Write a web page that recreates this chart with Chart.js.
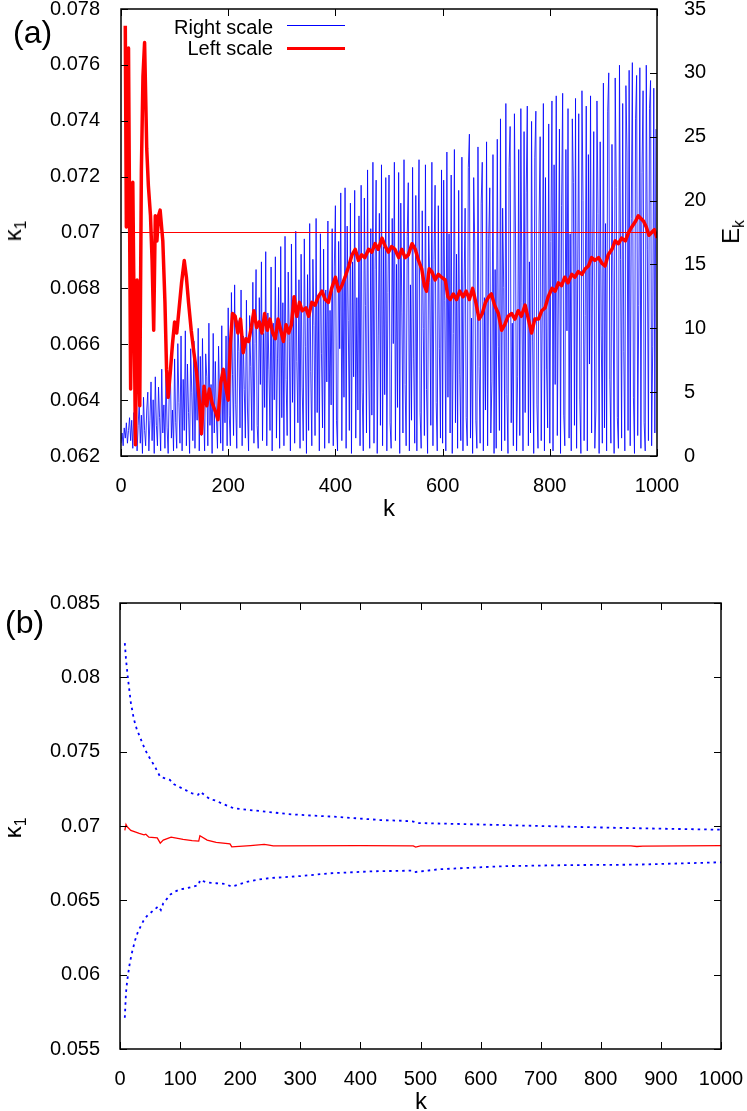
<!DOCTYPE html>
<html>
<head>
<meta charset="utf-8">
<title>kappa_1 and E_k versus k</title>
<script src="https://cdn.jsdelivr.net/npm/chart.js@4.4.1/dist/chart.umd.min.js"></script>
<style>
  body { margin: 0; background: #fff; width: 747px; height: 1111px; position: relative; overflow: hidden;
         font-family: "Liberation Sans", Arial, sans-serif; color: #000; }
  canvas { position: absolute; left: 0; }
  #chartA { top: 0; }
  #chartB { top: 560px; }
  .lbl { position: absolute; white-space: nowrap; line-height: 1; }
  .panel { font-size: 32px; }
  .axt { font-size: 24px; transform: translate(-50%, -50%); }
  .axt.rot { transform: translate(-50%, -50%) rotate(-90deg); }
  .axt sub { font-size: 65%; vertical-align: -0.35em; line-height: 0; }
  .leg { position: absolute; left: 0; width: 273px; text-align: right; font-size: 20px; line-height: 1; }
  .legline { position: absolute; left: 287px; width: 58px; }
</style>
</head>
<body>
<canvas id="chartA" width="747" height="540"></canvas>
<canvas id="chartB" width="747" height="551"></canvas>

<div class="lbl panel" style="left:13px; top:16px;">(a)</div>
<div class="lbl panel" style="left:5px; top:606px;">(b)</div>

<div class="leg" style="top:17px;">Right scale</div>
<div class="legline" style="top:25px; height:1px; background:#0000ff;"></div>
<div class="leg" style="top:38px;">Left scale</div>
<div class="legline" style="top:47px; height:3px; background:#ff0000;"></div>

<div class="lbl axt rot" style="left:13px; top:231px;">κ<sub>1</sub></div>
<div class="lbl axt rot" style="left:731px; top:232px;">E<sub>k</sub></div>
<div class="lbl axt" style="left:389px; top:508px;">k</div>
<div class="lbl axt rot" style="left:13px; top:828px;">κ<sub>1</sub></div>
<div class="lbl axt" style="left:421px; top:1101px;">k</div>

<script>
// ---- panel (a) data ----
// E_k (right scale), one value every BLUE_STEP in k (one row = 50 k)
const BLUE_STEP = 2;
const blueE = [
  1.0, 1.8, 0.8, 2.2, 1.4, 2.6, 1.0, 2.0, 3.0, 1.2, 2.8, 0.6, 3.4, 1.6, 3.8, 0.4, 2.4, 4.2, 1.0, 3.2, 0.2, 4.6, 2.0, 0.8, 3.6,
  5.0, 0.4, 2.8, 5.8, 1.2, 4.4, 0.2, 6.2, 2.4, 0.8, 5.4, 3.0, 0.4, 6.8, 1.8, 4.0, 0.6, 6.4, 2.2, 0.2, 5.2, 7.0, 1.4, 3.6, 0.4,
  7.6, 2.6, 0.6, 8.8, 4.2, 1.0, 9.4, 0.4, 6.0, 2.0, 9.8, 0.8, 7.2, 3.4, 0.2, 8.4, 5.0, 1.2, 9.0, 0.6, 6.6, 2.8, 10.0, 0.4, 7.8,
  1.6, 9.2, 3.6, 0.4, 8.0, 6.2, 0.8, 10.4, 2.4, 5.6, 0.2, 9.6, 1.8, 7.4, 3.0, 0.6, 8.6, 4.6, 1.0, 10.2, 0.4, 6.8, 2.6, 9.4, 0.8,
  11.6, 3.2, 0.8, 12.8, 6.4, 1.6, 13.4, 4.0, 0.6, 10.6, 8.2, 2.2, 13.0, 0.8, 9.4, 5.2, 1.4, 12.2, 3.6, 0.4, 11.0, 7.0, 2.0, 13.6, 1.0,
  8.8, 14.6, 2.4, 0.6, 12.4, 5.6, 15.2, 1.2, 9.6, 3.8, 16.0, 0.8, 11.2, 6.8, 2.0, 14.8, 0.4, 10.4, 4.4, 15.6, 1.4, 7.6, 13.2, 0.6, 16.4,
  3.0, 12.0, 0.8, 17.2, 6.0, 1.6, 14.4, 9.0, 0.4, 16.6, 4.2, 11.6, 1.0, 17.6, 7.4, 2.6, 13.8, 0.6, 15.8, 5.4, 1.2, 17.0, 8.6, 0.2, 14.2,
  2.0, 18.2, 6.6, 0.8, 15.4, 10.2, 1.6, 18.6, 3.4, 12.6, 0.4, 17.4, 8.0, 2.2, 16.2, 0.6, 13.0, 5.8, 18.4, 1.0, 11.4, 4.0, 17.8, 0.8, 14.8,
  19.6, 2.8, 0.4, 16.8, 8.4, 20.6, 1.2, 13.6, 4.6, 21.0, 0.6, 18.0, 10.6, 2.0, 19.8, 0.2, 15.2, 6.2, 20.8, 1.4, 12.4, 3.6, 18.8, 0.8, 21.2,
  5.0, 0.4, 20.2, 11.8, 1.8, 22.4, 7.2, 0.6, 17.8, 3.2, 23.0, 1.0, 14.6, 21.6, 0.2, 9.4, 19.0, 2.4, 22.8, 0.8, 16.4, 4.8, 21.8, 0.4, 12.8,
  22.0, 2.6, 0.6, 18.6, 8.8, 23.0, 1.2, 15.0, 3.8, 22.2, 0.2, 19.8, 11.2, 1.8, 23.2, 5.6, 0.8, 17.2, 21.4, 0.4, 13.4, 2.8, 22.6, 7.6, 1.0,
  20.4, 0.4, 16.0, 23.2, 3.4, 0.6, 19.2, 10.0, 1.6, 22.8, 5.2, 0.2, 18.0, 13.6, 2.4, 23.0, 0.8, 15.4, 21.2, 4.2, 0.4, 19.6, 8.4, 1.4, 22.4,
  1.0, 21.6, 12.2, 0.4, 23.8, 4.6, 17.4, 1.8, 22.0, 0.2, 9.6, 24.0, 2.6, 15.8, 0.6, 20.8, 6.4, 1.2, 23.4, 0.4, 13.0, 19.4, 3.0, 0.8, 22.6,
  25.2, 1.4, 10.8, 0.2, 21.8, 16.6, 2.8, 0.6, 24.2, 7.0, 1.0, 19.8, 23.0, 0.4, 12.4, 3.6, 24.6, 0.8, 17.0, 21.0, 1.8, 5.8, 23.6, 0.2, 14.6,
  0.6, 24.8, 8.6, 2.0, 26.4, 0.4, 19.4, 13.2, 1.2, 27.6, 4.8, 0.2, 22.6, 25.8, 2.6, 10.4, 0.8, 26.8, 17.6, 0.4, 6.2, 24.0, 1.6, 27.2, 12.0,
  0.4, 25.4, 3.4, 20.6, 27.4, 0.8, 15.2, 1.8, 26.2, 9.0, 0.2, 23.4, 27.0, 4.0, 0.6, 18.4, 25.0, 1.2, 11.6, 27.6, 0.4, 21.8, 6.8, 2.2, 26.0,
  1.0, 16.8, 27.8, 0.4, 22.8, 5.6, 28.2, 1.6, 13.0, 25.6, 0.2, 19.6, 28.4, 3.2, 0.8, 24.0, 9.8, 27.2, 1.4, 17.4, 0.4, 26.4, 21.4, 2.4, 28.0,
  0.6, 14.2, 26.8, 4.4, 0.2, 28.6, 20.0, 1.2, 11.0, 27.4, 0.4, 23.6, 7.2, 28.2, 1.8, 16.6, 25.4, 0.6, 3.6, 27.8, 19.0, 0.2, 24.6, 9.4, 1.0,
  29.2, 2.2, 18.2, 0.4, 27.0, 30.0, 6.0, 1.0, 24.4, 12.6, 0.2, 29.6, 21.0, 3.0, 0.6, 30.6, 15.4, 1.4, 27.6, 8.2, 0.4, 29.0, 23.8, 2.0, 30.2,
  0.8, 18.6, 30.8, 4.6, 0.2, 26.4, 29.8, 1.6, 11.8, 30.4, 0.6, 22.2, 28.6, 2.6, 0.4, 30.6, 16.2, 1.2, 27.2, 29.4, 0.8, 8.6, 28.8, 1.8, 25.6
];

// kappa_1 running estimate (left scale)
const redK = [
  8, 10, 14, 18, 22, 27, 30, 35, 38, 41, 44, 48, 51, 55, 58, 61, 64, 67, 70, 73, 78, 82, 85, 88, 92, 96,
  100, 104, 108, 113, 118, 122, 126, 131, 136, 141, 146, 150, 155, 160, 165, 170, 176, 181, 186, 191, 196,
  200, 204, 208, 213, 218, 223, 228, 233, 238, 243, 248, 253, 258, 263, 268, 273, 278, 283, 288, 293, 298,
  303, 308, 313, 318, 323, 328, 333, 338, 345, 350, 356, 362, 368, 375, 381, 387, 393,
  400, 406, 412, 418, 425, 431, 437, 443, 449, 455, 462, 468, 474, 480, 487, 493, 499,
  505, 511, 518, 524, 530, 536, 543, 549, 555, 561, 566, 570, 575, 580, 586, 592, 598,
  605, 610, 614, 620, 626, 632, 638, 644, 650, 656, 662, 668, 674, 680, 686, 691, 697,
  704, 710, 716, 722, 729, 735, 741, 747, 754, 760, 766, 772, 779, 785, 791, 797,
  804, 810, 816, 822, 828, 834, 841, 847, 853, 860, 866, 872, 878, 884, 891, 897,
  903, 909, 916, 922, 928, 934, 941, 947, 953, 960, 965, 970, 975, 980, 985, 990, 995, 1000
];
const redKappa = [
  0.0774, 0.0702, 0.0766, 0.0644, 0.0718, 0.0624, 0.0683, 0.0638, 0.0722, 0.0756, 0.0768, 0.0730, 0.0717, 0.0706, 0.0690, 0.0665, 0.0706, 0.0697, 0.0706, 0.0708, 0.0697, 0.0675, 0.0651, 0.0641, 0.0650, 0.0660,
  0.0668, 0.0664, 0.0672, 0.0682, 0.0690, 0.0684, 0.0675, 0.0665, 0.0657, 0.0650, 0.0640, 0.0628, 0.0645, 0.0638, 0.0644, 0.0639, 0.0636, 0.0633, 0.0646, 0.0651, 0.0644,
  0.0640, 0.0660, 0.0671, 0.0670, 0.0664, 0.0669, 0.0657, 0.0662, 0.0661, 0.0666, 0.0672, 0.0666, 0.0668, 0.0664, 0.0671, 0.0665, 0.0669, 0.0664, 0.0662, 0.0669, 0.0665,
  0.0661, 0.0667, 0.0664, 0.0667, 0.0677, 0.0670, 0.0675, 0.0672, 0.0673, 0.0670, 0.0675, 0.0674, 0.0677, 0.0679, 0.0676, 0.0675, 0.0680,
  0.0684, 0.0679, 0.0681, 0.0684, 0.0688, 0.0692, 0.0694, 0.0690, 0.0692, 0.0691, 0.0694, 0.0693, 0.0696, 0.0694, 0.0698, 0.0695, 0.0693,
  0.0695, 0.0694, 0.0691, 0.0694, 0.0691, 0.0692, 0.0696, 0.0694, 0.0690, 0.0687, 0.0681, 0.0679, 0.0687, 0.0686, 0.0683, 0.0685, 0.0684,
  0.0683, 0.0677, 0.0676, 0.0678, 0.0676, 0.0679, 0.0677, 0.0679, 0.0676, 0.0680, 0.0675, 0.0669, 0.0671, 0.0675, 0.0677, 0.0678, 0.0674,
  0.0671, 0.0665, 0.0667, 0.0670, 0.0671, 0.0669, 0.0672, 0.0670, 0.0674, 0.0669, 0.0664, 0.0669, 0.0669, 0.0672, 0.0673, 0.0677,
  0.0680, 0.0679, 0.0682, 0.0681, 0.0684, 0.0682, 0.0685, 0.0684, 0.0686, 0.0685, 0.0687, 0.0688, 0.0691, 0.0690, 0.0691, 0.0689,
  0.0688, 0.0692, 0.0694, 0.0697, 0.0696, 0.0698, 0.0697, 0.0700, 0.0702, 0.0704, 0.0706, 0.0705, 0.0704, 0.0702, 0.0699, 0.0700, 0.0701, 0.0698
];
const refKappa = 0.07;

const kTicksA = { min: 0, max: 1000, step: 200 };
const leftTicksA = { min: 0.062, max: 0.078, step: 0.002 };
const rightTicksA = { min: 0, max: 35, step: 5 };

// ---- panel (b) data ----
const upperK = [8, 10, 13, 18, 23, 28, 33, 40, 46, 52, 58, 63, 67, 75, 83, 90, 100, 110, 120, 130, 134, 140, 150, 160, 170, 189,
  210, 244, 280, 320, 355, 400, 433, 470, 488, 495, 550, 600, 700, 800, 900, 1000];
const upperKappa = [0.0823, 0.0812, 0.0800, 0.0783, 0.0772, 0.0765, 0.0760, 0.0753, 0.0748, 0.0744, 0.0740, 0.0736, 0.0733, 0.0732,
  0.0731, 0.0728, 0.0726, 0.0724, 0.0722, 0.0721, 0.0723, 0.0721, 0.0718, 0.0717, 0.0715, 0.0712,
  0.0711, 0.07096, 0.0708, 0.0707, 0.07063, 0.0705, 0.0704, 0.07035, 0.0703, 0.0702, 0.07015, 0.0701, 0.0700, 0.0699, 0.06982, 0.06975];

const meanK = [8, 10, 12, 18, 25, 32, 40, 43, 48, 62, 67, 72, 85, 105, 120, 131, 133, 145, 160, 183, 186, 217, 240, 248, 255,
  400, 488, 492, 500, 850, 860, 870, 1000];
const meanKappa = [0.0697, 0.0701, 0.06995, 0.0697, 0.0696, 0.0695, 0.0694, 0.06945, 0.06925, 0.0692, 0.06885, 0.06905, 0.06925,
  0.0691, 0.06902, 0.06898, 0.06935, 0.06905, 0.0689, 0.0688, 0.0686, 0.06868, 0.06876, 0.06872, 0.06866,
  0.06868, 0.06866, 0.06858, 0.06866, 0.06866, 0.06862, 0.06864, 0.06868];

const lowerK = [8, 10, 12, 16, 20, 25, 30, 35, 40, 46, 52, 58, 64, 68, 72, 78, 84, 92, 100, 110, 120, 131, 133, 145, 160, 175, 186,
  200, 211, 230, 250, 300, 350, 420, 485, 490, 530, 640, 750, 860, 1000];
const lowerKappa = [0.0571, 0.0588, 0.0596, 0.0607, 0.0615, 0.0623, 0.0629, 0.0633, 0.0637, 0.0640, 0.0642, 0.0644, 0.0646, 0.06435,
  0.0648, 0.0651, 0.0654, 0.0656, 0.06574, 0.0658, 0.0659, 0.06603, 0.06637, 0.0662, 0.06615, 0.0661, 0.06592,
  0.0661, 0.06625, 0.0664, 0.0665, 0.06663, 0.06682, 0.06695, 0.0670, 0.0669, 0.06709, 0.0673, 0.06737, 0.0674, 0.06756];

const kTicksB = { min: 0, max: 1000, step: 100 };
const leftTicksB = { min: 0.055, max: 0.085, step: 0.005 };

// ---- helpers ----
const pts = (xs, ys) => xs.map((x, i) => ({ x: x, y: ys[i] }));
const tickFont = { family: '"Liberation Sans", Arial, sans-serif', size: 20 };
const fmt = v => String(Number(v.toFixed(4)));

// gnuplot style box with inward tick marks
const gnuplotFrame = {
  id: 'gnuplotFrame',
  afterDatasetsDraw(chart, args, opts) {
    const { ctx, chartArea: a } = chart;
    const L = 7;
    ctx.save();
    ctx.strokeStyle = '#000';
    ctx.lineWidth = 1;
    ctx.beginPath();
    const xs = chart.scales.x;
    xs.ticks.forEach(t => {
      const px = Math.round(xs.getPixelForValue(t.value)) + 0.5;
      ctx.moveTo(px, a.bottom); ctx.lineTo(px, a.bottom - L);
      ctx.moveTo(px, a.top); ctx.lineTo(px, a.top + L);
    });
    const ys = chart.scales.y;
    ys.ticks.forEach(t => {
      const py = Math.round(ys.getPixelForValue(t.value)) + 0.5;
      ctx.moveTo(a.left, py); ctx.lineTo(a.left + L, py);
      if (opts.mirrorY) { ctx.moveTo(a.right, py); ctx.lineTo(a.right - L, py); }
    });
    const y2 = chart.scales.y2;
    if (y2) {
      y2.ticks.forEach(t => {
        const py = Math.round(y2.getPixelForValue(t.value)) + 0.5;
        ctx.moveTo(a.right, py); ctx.lineTo(a.right - L, py);
      });
    }
    ctx.stroke();
    ctx.lineWidth = 1.5;
    ctx.strokeRect(a.left, a.top, a.right - a.left, a.bottom - a.top);
    ctx.restore();
  }
};

function xScale(t, h) {
  return {
    type: 'linear', min: t.min, max: t.max,
    ticks: { stepSize: t.step, padding: 10, color: '#000', font: tickFont, maxRotation: 0, autoSkip: false,
             callback: v => String(v) },
    grid: { display: false }, border: { display: false },
    afterFit: s => { s.height = h; s.paddingLeft = 0; s.paddingRight = 0; }
  };
}
function yScale(t, pos, w, pad, cb) {
  return {
    type: 'linear', position: pos, min: t.min, max: t.max,
    ticks: { stepSize: t.step, padding: pad, color: '#000', font: tickFont, callback: cb },
    grid: { display: false }, border: { display: false },
    afterFit: s => { s.width = w; s.paddingTop = 0; s.paddingBottom = 0; }
  };
}

// ---- chart (a) ----
new Chart(document.getElementById('chartA'), {
  type: 'line',
  data: {
    datasets: [
      { label: '0.07', data: pts([kTicksA.min, kTicksA.max], [refKappa, refKappa]), yAxisID: 'y',
        borderColor: '#ff0000', borderWidth: 1, order: 1 },
      { label: 'Left scale', data: pts(redK, redKappa), yAxisID: 'y',
        borderColor: '#ff0000', borderWidth: 3.5, borderJoinStyle: 'round', order: 2 },
      { label: 'Right scale', data: blueE.map((v, i) => ({ x: i * BLUE_STEP, y: v })), yAxisID: 'y2',
        borderColor: 'rgba(0,0,255,0.8)', borderWidth: 1, order: 3 }
    ]
  },
  options: {
    responsive: false, animation: false,
    elements: { point: { radius: 0 }, line: { tension: 0 } },
    layout: { padding: { top: 9, left: 0, right: 0, bottom: 0 } },
    plugins: { legend: { display: false }, tooltip: { enabled: false }, gnuplotFrame: { mirrorY: false } },
    scales: {
      x: xScale(kTicksA, 84),
      y: yScale(leftTicksA, 'left', 121, 13, fmt),
      y2: yScale(rightTicksA, 'right', 90, 19, v => String(v))
    }
  },
  plugins: [gnuplotFrame]
});

// ---- chart (b) ----
const dotted = { borderColor: '#0000ff', borderWidth: 1.8, borderDash: [2.5, 4] };
new Chart(document.getElementById('chartB'), {
  type: 'line',
  data: {
    datasets: [
      Object.assign({ label: 'upper', data: pts(upperK, upperKappa) }, dotted),
      { label: 'kappa_1', data: pts(meanK, meanKappa), borderColor: '#ff0000', borderWidth: 1.3 },
      Object.assign({ label: 'lower', data: pts(lowerK, lowerKappa) }, dotted)
    ]
  },
  options: {
    responsive: false, animation: false,
    elements: { point: { radius: 0 }, line: { tension: 0 } },
    layout: { padding: { top: 43, left: 0, right: 26, bottom: 0 } },
    plugins: { legend: { display: false }, tooltip: { enabled: false }, gnuplotFrame: { mirrorY: true } },
    scales: {
      x: xScale(kTicksB, 62),
      y: yScale(leftTicksB, 'left', 120, 12, fmt)
    }
  },
  plugins: [gnuplotFrame]
});
</script>
</body>
</html>
